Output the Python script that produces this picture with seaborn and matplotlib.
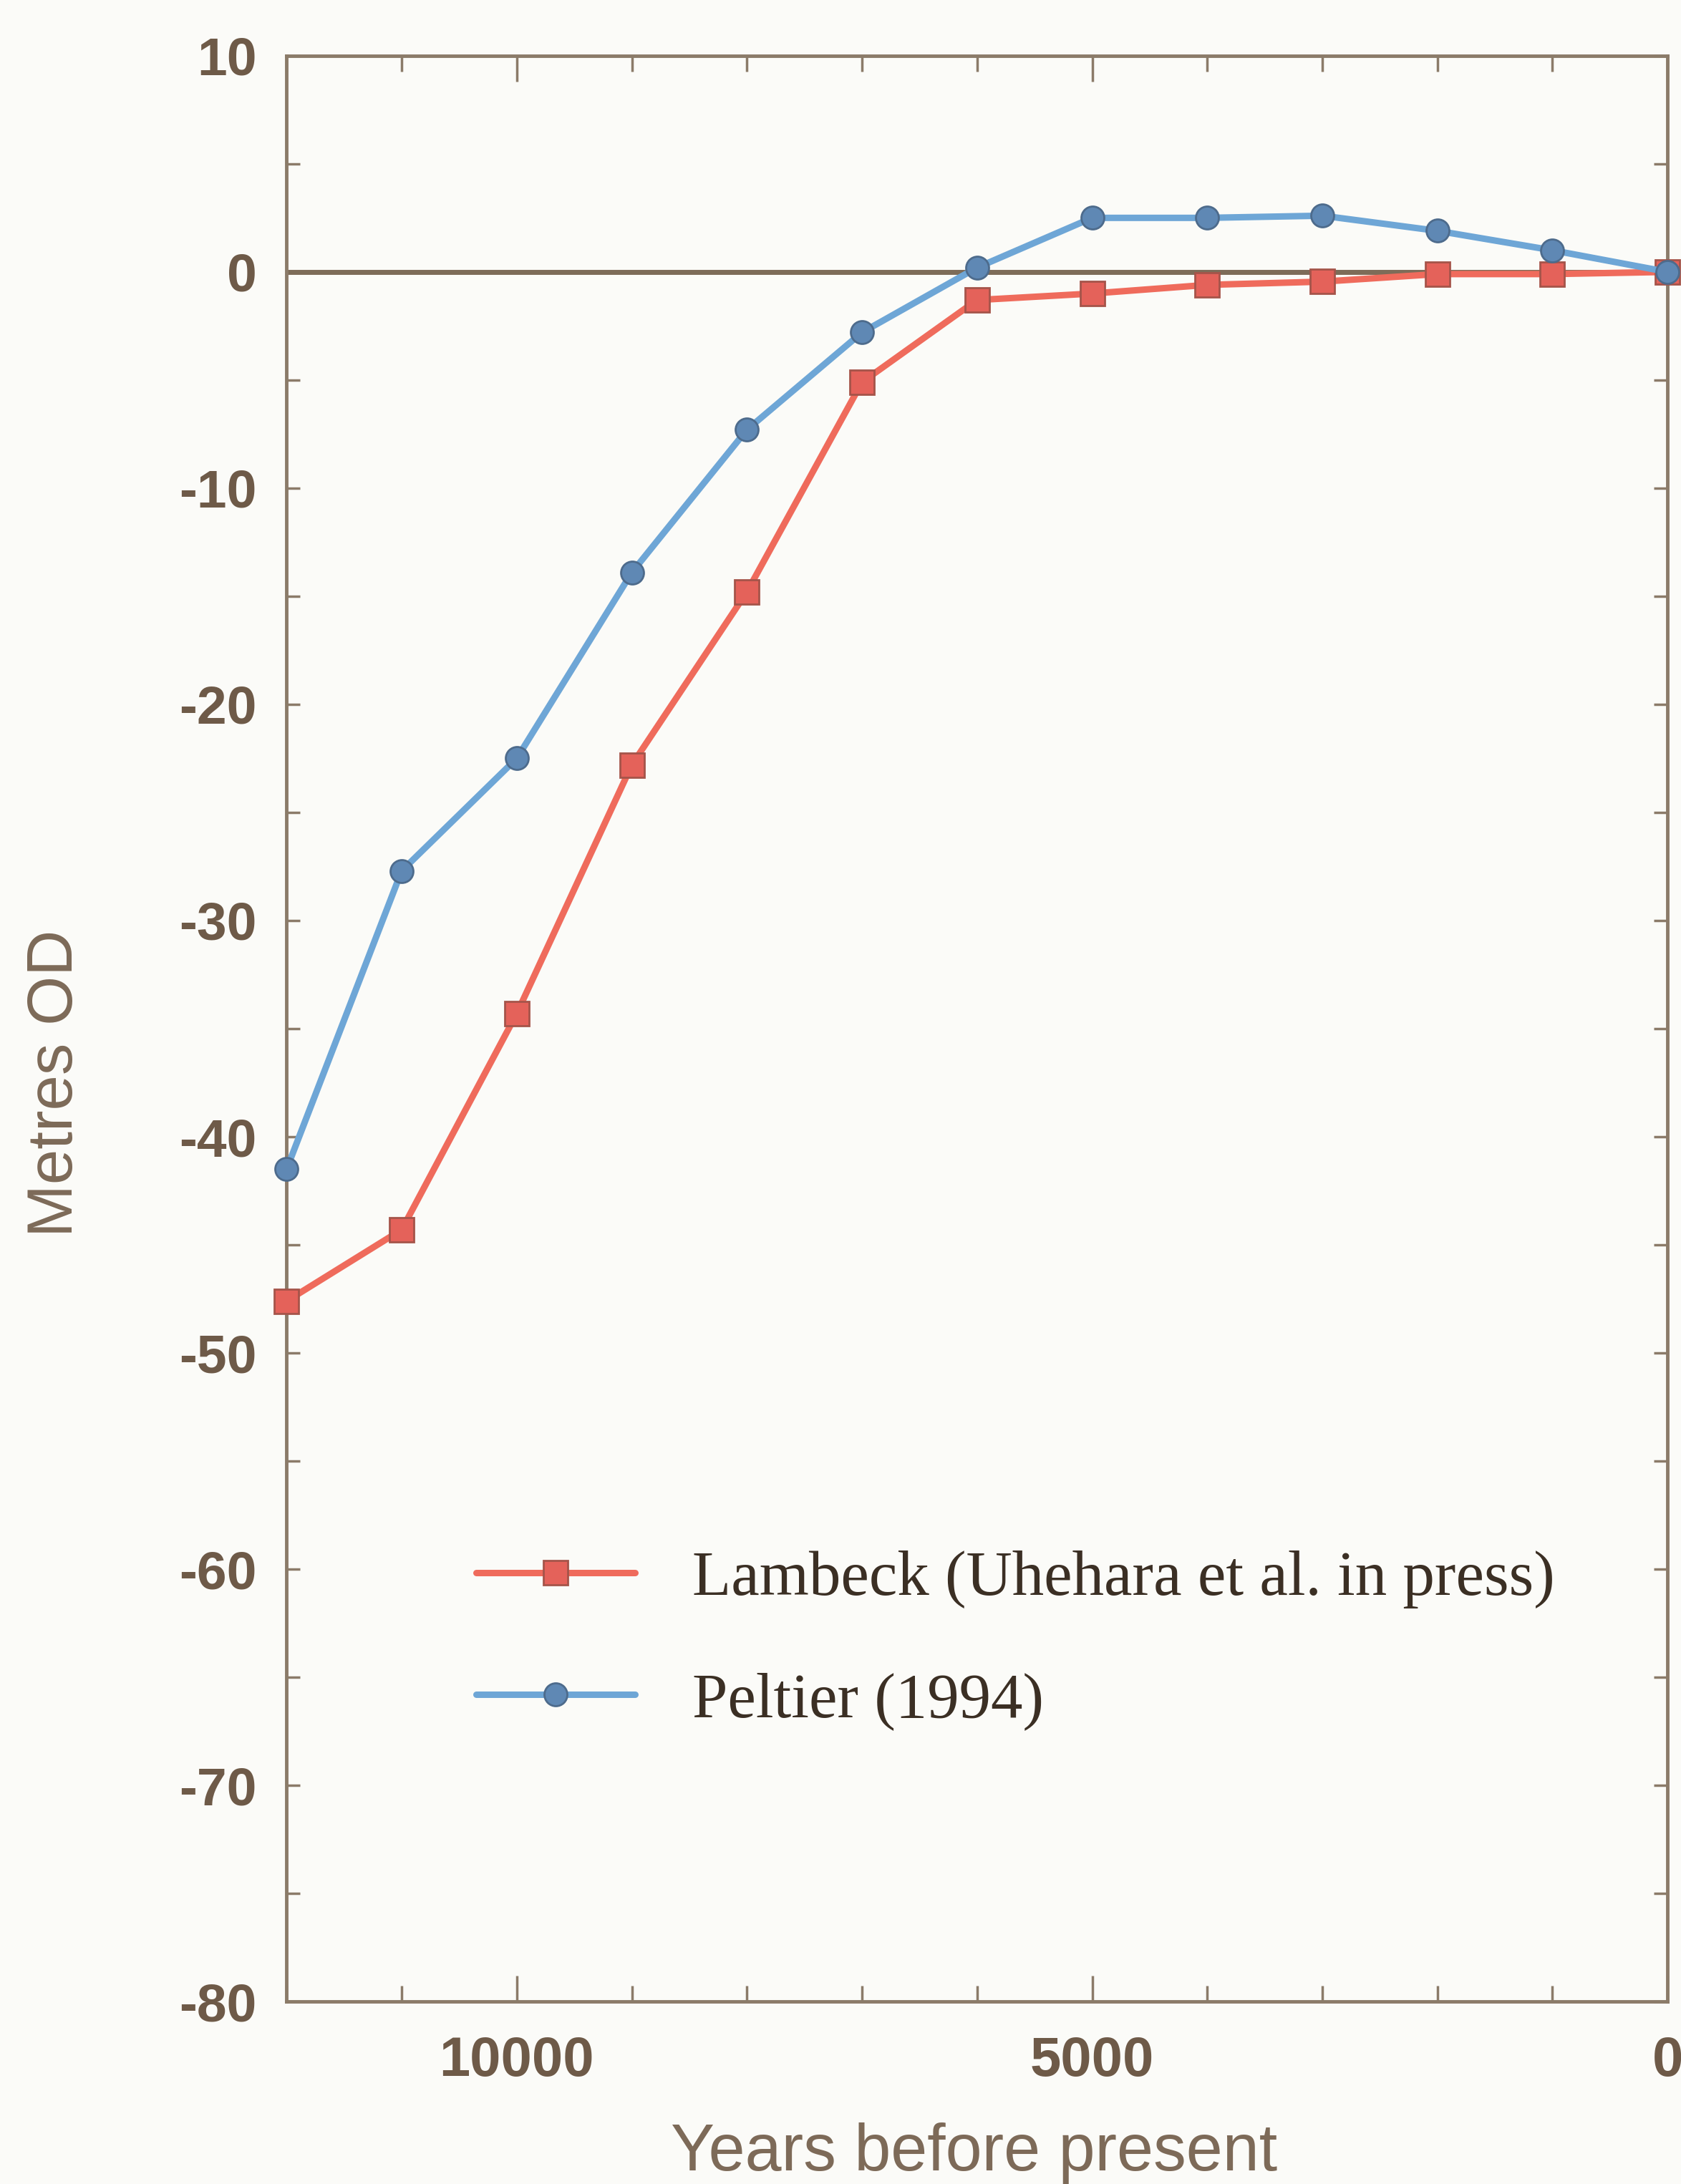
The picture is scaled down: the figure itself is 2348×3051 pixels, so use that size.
import numpy as np
import pandas as pd
import seaborn as sns
import matplotlib.pyplot as plt
import matplotlib.ticker as mticker

# values
years = [12000, 11000, 10000, 9000, 8000, 7000, 6000, 5000, 4000, 3000, 2000, 1000, 0]
lambeck = [-47.6, -44.3, -34.3, -22.8, -14.8, -5.1, -1.3, -1.0, -0.6, -0.45, -0.1, -0.1, 0.0]
peltier = [-41.5, -27.7, -22.5, -13.9, -7.3, -2.8, 0.2, 2.5, 2.5, 2.6, 1.9, 1.0, 0.0]
lambeck_name = "Lambeck (Uhehara et al. in press)"
peltier_name = "Peltier (1994)"
y_ticks = [10, 0, -10, -20, -30, -40, -50, -60, -70, -80]
x_ticks = [10000, 5000, 0]

axis_col = "#8b7b69"
label_col = "#6e5a48"
bg = "#fbfbf8"

sns.set_style("ticks")
plt.rcParams['font.family'] = ['Liberation Sans', 'DejaVu Sans']
plt.rcParams['axes.unicode_minus'] = False

fig = plt.figure(figsize=(23.48, 30.51), dpi=100, facecolor=bg)
ax = fig.add_axes([0.1705, 0.0835, 0.8215, 0.891])
ax.set_facecolor(bg)

ax.axhline(0, color="#7d6c58", lw=5, zorder=1)

sns.lineplot(x=years, y=lambeck, ax=ax, color="#ef6b5c", lw=6.5,
             marker='s', markersize=24, markerfacecolor="#e4625a",
             markeredgecolor="#a5544a", markeredgewidth=2,
             label=lambeck_name, clip_on=False, zorder=3)
sns.lineplot(x=years, y=peltier, ax=ax, color="#6ea6d6", lw=6.5,
             marker='o', markersize=23, markerfacecolor="#5f88b4",
             markeredgecolor="#4d6b8c", markeredgewidth=2,
             label=peltier_name, clip_on=False, zorder=4)

ax.set_xlim(12000, 0)
ax.set_ylim(-80, 10)
ax.set_yticks(y_ticks)
ax.set_xticks(x_ticks)
ax.xaxis.set_minor_locator(mticker.MultipleLocator(1000))
ax.yaxis.set_minor_locator(mticker.MultipleLocator(5))

ax.tick_params(which='both', direction='in', top=True, right=True,
               color=axis_col, width=2.5)
ax.tick_params(which='major', axis='x', length=26)
ax.tick_params(which='minor', axis='x', length=16)
ax.tick_params(which='both', axis='y', length=14)
ax.tick_params(axis='y', pad=30, labelsize=54, labelcolor=label_col)
ax.tick_params(axis='x', pad=34, labelsize=56, labelcolor=label_col)
for item in ax.get_xticklabels() + ax.get_yticklabels():
    item.set_fontweight('bold')

for sp in ax.spines.values():
    sp.set_color(axis_col)
    sp.set_linewidth(3.5)

ax.set_xlabel("Years before present", fontsize=66, color="#7d6a58", va='center')
ax.set_ylabel("Metres OD", fontsize=64, color="#7d6a58", va='center', ha='center')
ax.xaxis.set_label_coords(0.498, -0.078)
ax.yaxis.set_label_coords(-0.167, 0.472)

leg = ax.legend(loc='upper left', bbox_to_anchor=(0.137, 0.232), frameon=False,
                borderaxespad=0, borderpad=0, handlelength=2.5, handletextpad=0.9,
                labelspacing=1.0, prop={'family': 'Liberation Serif', 'size': 64})
for t in leg.get_texts():
    t.set_color("#3b2f24")

plt.savefig('out.png', dpi=100, facecolor=bg)
